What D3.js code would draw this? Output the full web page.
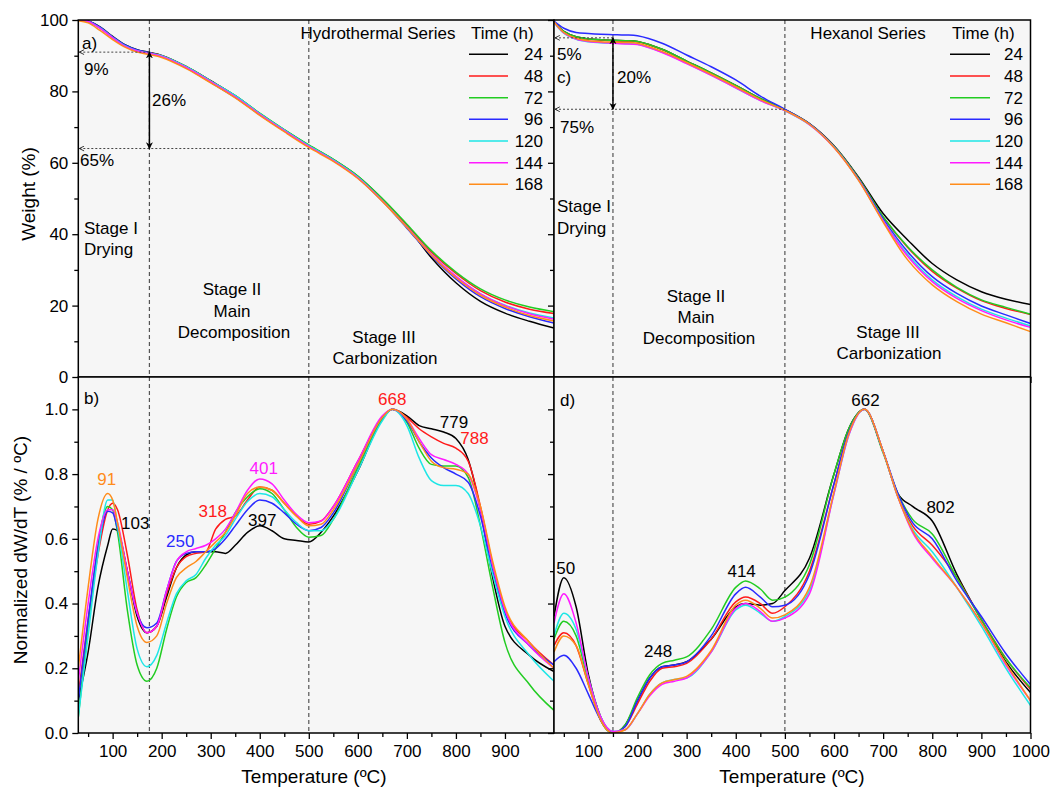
<!DOCTYPE html>
<html>
<head>
<meta charset="utf-8">
<script src="https://cdn.jsdelivr.net/npm/d3@7"></script>
<style>
  body { margin: 0; background: #fff; }
  text { font-family: "Liberation Sans", Arial, sans-serif; }
</style>
</head>
<body>
<script>
// ---- data ----
const times = ["24", "48", "72", "96", "120", "144", "168"];
const colors = ["#000000", "#ff1a1a", "#22cc22", "#2a2aff", "#1ee6e6", "#ff1aff", "#ff8c1a"];

// TGA (weight %), both series share the same temperature grid
const tgaT = [30, 50, 75, 100, 125, 150, 175, 200, 250, 300, 350, 400, 450, 500, 550, 600, 650, 700, 750, 800, 850, 900, 950, 1000];

const hydroTGA = [
  [100, 99.7, 98.0, 95.4, 93.1, 91.7, 90.9, 90.1, 87.0, 83.0, 78.8, 73.8, 69.2, 64.9, 60.9, 56.2, 49.8, 42.3, 33.4, 26.4, 21.2, 17.9, 15.6, 13.7],
  [100, 99.6, 97.8, 95.2, 92.9, 91.5, 90.8, 90.0, 86.9, 82.9, 78.7, 73.7, 69.1, 64.8, 60.8, 56.0, 49.7, 42.5, 35.0, 29.0, 24.2, 21.0, 19.0, 17.8],
  [100, 99.6, 97.7, 95.1, 92.8, 91.4, 90.7, 89.9, 86.9, 82.9, 78.8, 73.9, 69.3, 65.0, 61.0, 56.3, 50.0, 42.8, 35.4, 29.4, 24.7, 21.6, 19.6, 18.3],
  [100, 99.7, 97.9, 95.3, 93.0, 91.6, 90.8, 89.9, 86.6, 82.5, 78.3, 73.4, 68.9, 64.6, 60.6, 55.8, 49.3, 41.7, 34.0, 27.5, 22.5, 19.2, 16.9, 15.1],
  [100, 99.6, 97.7, 95.1, 92.8, 91.4, 90.7, 90.0, 86.9, 82.9, 78.8, 73.8, 69.2, 64.8, 60.8, 56.0, 49.4, 42.0, 34.4, 28.1, 23.3, 20.1, 17.9, 16.5],
  [100, 99.6, 97.6, 95.0, 92.7, 91.3, 90.6, 89.8, 86.7, 82.7, 78.5, 73.6, 69.0, 64.6, 60.6, 55.8, 49.3, 42.0, 34.4, 28.2, 23.3, 20.0, 17.7, 16.2],
  [99.8, 99.2, 97.0, 94.5, 92.4, 91.0, 90.3, 89.5, 86.4, 82.4, 78.2, 73.3, 68.7, 64.3, 60.4, 55.6, 49.2, 41.9, 34.2, 27.8, 22.9, 19.6, 17.2, 15.7]
];

const hexTGA = [
  [99.5, 96.8, 95.3, 94.7, 94.5, 94.3, 94.2, 94.0, 91.8, 88.5, 85.2, 81.7, 78.0, 74.9, 71.0, 64.8, 56.0, 45.8, 38.4, 31.8, 27.2, 23.9, 21.8, 20.3],
  [99.5, 96.7, 95.2, 94.6, 94.4, 94.2, 94.1, 93.9, 91.7, 88.4, 85.1, 81.6, 77.9, 74.8, 70.9, 64.6, 55.6, 44.8, 36.3, 29.6, 24.9, 21.4, 19.2, 17.5],
  [99.5, 96.8, 95.3, 94.7, 94.5, 94.3, 94.2, 94.0, 91.8, 88.5, 85.2, 81.7, 78.0, 74.9, 70.9, 64.6, 55.7, 44.9, 36.5, 30.0, 25.1, 21.6, 19.5, 17.6],
  [99.7, 97.7, 96.5, 96.2, 96.0, 95.9, 95.8, 95.6, 93.5, 90.2, 86.9, 83.2, 78.7, 75.0, 70.9, 64.5, 55.4, 44.3, 35.1, 28.1, 23.4, 19.9, 17.4, 15.0],
  [99.4, 96.3, 94.6, 93.9, 93.6, 93.5, 93.4, 93.2, 91.0, 87.9, 84.6, 81.0, 77.5, 74.6, 70.7, 64.4, 55.2, 43.8, 34.3, 27.2, 22.5, 19.0, 16.5, 14.3],
  [99.4, 96.4, 94.7, 94.0, 93.7, 93.5, 93.3, 93.1, 90.9, 87.8, 84.5, 81.0, 77.4, 74.6, 70.7, 64.3, 55.2, 43.7, 33.8, 26.7, 22.0, 18.6, 16.0, 13.9],
  [99.5, 96.5, 94.9, 94.2, 93.9, 93.8, 93.7, 93.5, 91.2, 88.1, 84.8, 81.3, 77.7, 74.7, 70.8, 64.3, 55.1, 43.4, 32.8, 25.8, 21.1, 17.6, 15.2, 12.7]
];

// DTG (normalized dW/dT)
const hydroT = [30, 50, 70, 90, 100, 110, 130, 150, 170, 190, 210, 230, 250, 270, 290, 310, 330, 350, 375, 400, 425, 450, 475, 500, 525, 550, 600, 650, 670, 700, 725, 750, 775, 800, 825, 850, 875, 900, 950, 1000];

const hydroDTG = [
  [0.10, 0.25, 0.45, 0.58, 0.63, 0.625, 0.50, 0.36, 0.31, 0.33, 0.42, 0.51, 0.55, 0.56, 0.56, 0.56, 0.555, 0.58, 0.62, 0.64, 0.625, 0.60, 0.595, 0.59, 0.62, 0.67, 0.81, 0.97, 1.0, 0.98, 0.95, 0.94, 0.93, 0.91, 0.845, 0.69, 0.48, 0.33, 0.24, 0.19],
  [0.12, 0.35, 0.55, 0.69, 0.71, 0.69, 0.55, 0.38, 0.31, 0.33, 0.43, 0.51, 0.545, 0.555, 0.56, 0.63, 0.66, 0.67, 0.72, 0.76, 0.75, 0.71, 0.67, 0.645, 0.655, 0.70, 0.84, 0.975, 1.0, 0.975, 0.94, 0.915, 0.895, 0.88, 0.84, 0.70, 0.52, 0.38, 0.28, 0.21],
  [0.05, 0.33, 0.58, 0.70, 0.69, 0.62, 0.38, 0.21, 0.16, 0.20, 0.32, 0.42, 0.465, 0.48, 0.52, 0.57, 0.62, 0.68, 0.73, 0.755, 0.74, 0.69, 0.635, 0.605, 0.61, 0.66, 0.82, 0.97, 1.0, 0.96, 0.88, 0.83, 0.825, 0.825, 0.79, 0.64, 0.45, 0.28, 0.15, 0.07],
  [0.10, 0.35, 0.57, 0.685, 0.68, 0.63, 0.50, 0.37, 0.325, 0.34, 0.44, 0.53, 0.555, 0.56, 0.56, 0.57, 0.60, 0.64, 0.69, 0.72, 0.71, 0.68, 0.645, 0.625, 0.635, 0.68, 0.83, 0.975, 1.0, 0.965, 0.90, 0.85, 0.82, 0.80, 0.775, 0.67, 0.50, 0.37, 0.27, 0.21],
  [0.05, 0.30, 0.55, 0.72, 0.72, 0.64, 0.44, 0.26, 0.205, 0.24, 0.34, 0.43, 0.47, 0.49, 0.54, 0.58, 0.61, 0.66, 0.715, 0.74, 0.73, 0.69, 0.65, 0.625, 0.625, 0.66, 0.81, 0.965, 1.0, 0.95, 0.85, 0.78, 0.765, 0.765, 0.74, 0.64, 0.49, 0.36, 0.24, 0.16],
  [0.16, 0.40, 0.60, 0.69, 0.69, 0.65, 0.50, 0.37, 0.31, 0.33, 0.44, 0.53, 0.56, 0.57, 0.58, 0.60, 0.63, 0.68, 0.75, 0.785, 0.77, 0.72, 0.675, 0.65, 0.655, 0.70, 0.84, 0.98, 1.0, 0.97, 0.91, 0.86, 0.845, 0.83, 0.80, 0.69, 0.52, 0.38, 0.27, 0.20],
  [0.20, 0.45, 0.66, 0.74, 0.72, 0.65, 0.48, 0.33, 0.28, 0.30, 0.40, 0.48, 0.51, 0.53, 0.56, 0.59, 0.62, 0.67, 0.74, 0.76, 0.75, 0.71, 0.67, 0.64, 0.645, 0.69, 0.83, 0.975, 1.0, 0.97, 0.90, 0.84, 0.82, 0.815, 0.80, 0.70, 0.53, 0.39, 0.28, 0.20]
];

const hexT = [30, 50, 75, 100, 125, 150, 175, 200, 225, 250, 275, 300, 350, 400, 420, 450, 475, 500, 550, 600, 630, 662, 700, 730, 760, 800, 850, 900, 950, 1000];

const hexDTG = [
  [0.36, 0.48, 0.39, 0.18, 0.05, 0.0, 0.025, 0.10, 0.17, 0.205, 0.21, 0.22, 0.29, 0.39, 0.40, 0.395, 0.40, 0.44, 0.54, 0.80, 0.94, 1.0, 0.87, 0.74, 0.70, 0.655, 0.49, 0.35, 0.22, 0.125],
  [0.27, 0.31, 0.27, 0.15, 0.04, 0.0, 0.02, 0.09, 0.16, 0.20, 0.205, 0.215, 0.29, 0.405, 0.42, 0.40, 0.37, 0.39, 0.50, 0.77, 0.93, 1.0, 0.87, 0.73, 0.64, 0.58, 0.48, 0.35, 0.23, 0.135],
  [0.29, 0.345, 0.30, 0.16, 0.04, 0.0, 0.025, 0.11, 0.18, 0.215, 0.225, 0.235, 0.32, 0.45, 0.47, 0.445, 0.41, 0.42, 0.52, 0.80, 0.94, 1.0, 0.865, 0.74, 0.66, 0.615, 0.48, 0.35, 0.23, 0.14],
  [0.22, 0.24, 0.20, 0.12, 0.04, 0.0, 0.02, 0.10, 0.17, 0.205, 0.21, 0.22, 0.30, 0.43, 0.45, 0.42, 0.39, 0.395, 0.49, 0.77, 0.93, 1.0, 0.87, 0.74, 0.65, 0.60, 0.47, 0.36, 0.245, 0.15],
  [0.30, 0.37, 0.32, 0.17, 0.05, 0.005, 0.01, 0.06, 0.12, 0.155, 0.165, 0.17, 0.25, 0.38, 0.395, 0.37, 0.345, 0.36, 0.44, 0.74, 0.92, 1.0, 0.87, 0.73, 0.63, 0.56, 0.45, 0.33, 0.20, 0.085],
  [0.34, 0.43, 0.34, 0.17, 0.05, 0.005, 0.01, 0.06, 0.115, 0.15, 0.16, 0.17, 0.25, 0.385, 0.40, 0.375, 0.345, 0.355, 0.43, 0.74, 0.92, 1.0, 0.87, 0.73, 0.62, 0.54, 0.45, 0.34, 0.21, 0.10],
  [0.25, 0.30, 0.27, 0.15, 0.04, 0.0, 0.01, 0.06, 0.12, 0.155, 0.165, 0.175, 0.255, 0.395, 0.41, 0.385, 0.355, 0.365, 0.45, 0.745, 0.925, 1.0, 0.87, 0.73, 0.625, 0.545, 0.45, 0.34, 0.215, 0.10]
];

// peak labels: text, temperature, value, colour index
const hydroPeaks = [
  ["91", 88, 0.785, 6], ["103", 146, 0.649, 0], ["250", 238, 0.593, 3], ["318", 304, 0.686, 1],
  ["397", 405, 0.658, 0], ["401", 408, 0.819, 5], ["668", 670, 1.032, 1], ["779", 796, 0.961, 0], ["788", 838, 0.912, 1]
];
const hexPeaks = [
  ["50", 54, 0.511, 0], ["248", 242, 0.254, 0], ["414", 412, 0.502, 0], ["662", 664, 1.029, 0], ["802", 817, 0.699, 0]
];

// ---- layout ----
const W = 1050, H = 792;
const svg = d3.select("body").append("svg").attr("width", W).attr("height", H);

const xL = d3.scaleLinear().domain([30, 1000]).range([78.3, 554]);
const xR = d3.scaleLinear().domain([30, 1000]).range([554, 1030.5]);
const yTop = d3.scaleLinear().domain([0, 100]).range([377, 20]);
const yBot = d3.scaleLinear().domain([0, 1.1]).range([733, 377]);

const defs = svg.append("defs");
defs.append("marker").attr("id", "solidHead")
  .attr("viewBox", "0 0 10 10").attr("refX", 9).attr("refY", 5)
  .attr("markerWidth", 7).attr("markerHeight", 8).attr("markerUnits", "userSpaceOnUse")
  .attr("orient", "auto-start-reverse")
  .append("path").attr("d", "M0,0 L10,5 L0,10 L3,5 Z").attr("fill", "#000");
defs.append("marker").attr("id", "openHead")
  .attr("viewBox", "0 0 10 10").attr("refX", 1).attr("refY", 5)
  .attr("markerWidth", 6).attr("markerHeight", 6).attr("markerUnits", "userSpaceOnUse")
  .attr("orient", "auto")
  .append("path").attr("d", "M9,1 L1,5 L9,9").attr("fill", "none").attr("stroke", "#222").attr("stroke-width", 1.5);

function panel(id, x, y, T, series, opts) {
  const [xa, xb] = x.range();
  const [yb, ya] = y.range();
  const g = svg.append("g");

  g.append("rect").attr("x", xa).attr("y", ya).attr("width", xb - xa).attr("height", yb - ya).attr("fill", "#f6f6f6");

  defs.append("clipPath").attr("id", id + "-clip")
    .append("rect").attr("x", xa).attr("y", ya).attr("width", xb - xa).attr("height", yb - ya);

  // stage boundaries
  opts.stages.forEach(s => {
    g.append("line").attr("x1", x(s)).attr("x2", x(s)).attr("y1", ya).attr("y2", yb)
      .attr("stroke", "#555").attr("stroke-width", 1.2).attr("stroke-dasharray", "4,3");
  });

  const line = d3.line().x((d, i) => x(T[i])).y(d => y(d)).curve(opts.curve);
  g.append("g").attr("clip-path", `url(#${id}-clip)`)
    .selectAll("path").data(series).join("path")
    .attr("d", line).attr("fill", "none")
    .attr("stroke", (d, i) => colors[i]).attr("stroke-width", 1.5);

  // axes
  const xMajor = d3.range(100, 1001, 100).filter(v => v <= opts.xMax);
  const xMinor = d3.range(50, 1000, 100);
  const xa1 = g.append("g").attr("transform", `translate(0,${yb})`)
    .call(d3.axisBottom(x).tickValues(xMajor).tickSize(6).tickPadding(6)
      .tickFormat(opts.xLabels ? d3.format("d") : ""));
  const xa2 = g.append("g").attr("transform", `translate(0,${yb})`)
    .call(d3.axisBottom(x).tickValues(xMinor).tickSize(4).tickFormat(""));
  const ya1 = g.append("g").attr("transform", `translate(${xa},0)`)
    .call(d3.axisLeft(y).tickValues(opts.yMajor).tickSize(6).tickPadding(4)
      .tickFormat(opts.yLabels ? opts.yFormat : ""));
  const ya2 = g.append("g").attr("transform", `translate(${xa},0)`)
    .call(d3.axisLeft(y).tickValues(opts.yMinor).tickSize(4).tickFormat(""));
  [xa1, xa2, ya1, ya2].forEach(a => {
    a.select(".domain").remove();
    a.selectAll("line").attr("stroke", "#000").attr("stroke-width", 1.3);
    a.selectAll("text").attr("font-size", 17).attr("fill", "#000")
      .style("font-family", '"Liberation Sans", Arial, sans-serif');
  });

  g.append("rect").attr("x", xa).attr("y", ya).attr("width", xb - xa).attr("height", yb - ya)
    .attr("fill", "none").attr("stroke", "#000").attr("stroke-width", 1.5);
  return g;
}

const tickY = [0, 20, 40, 60, 80, 100], minorY = [10, 30, 50, 70, 90];
const tickD = [0, 0.2, 0.4, 0.6, 0.8, 1.0], minorD = [0.1, 0.3, 0.5, 0.7, 0.9];
const smooth = d3.curveCatmullRom.alpha(0.5);

const gA = panel("a", xL, yTop, tgaT, hydroTGA, { curve: smooth, stages: [175, 500], xMax: 900, xLabels: false, yLabels: true, yMajor: tickY, yMinor: minorY, yFormat: d3.format("d") });
const gC = panel("c", xR, yTop, tgaT, hexTGA, { curve: smooth, stages: [150, 500], xMax: 1000, xLabels: false, yLabels: false, yMajor: tickY, yMinor: minorY });
const gB = panel("b", xL, yBot, hydroT, hydroDTG, { curve: d3.curveMonotoneX, stages: [175, 500], xMax: 900, xLabels: true, yLabels: true, yMajor: tickD, yMinor: minorD, yFormat: d3.format(".1f") });
const gD = panel("d", xR, yBot, hexT, hexDTG, { curve: d3.curveMonotoneX, stages: [150, 500], xMax: 1000, xLabels: true, yLabels: false, yMajor: tickD, yMinor: minorD });

function txt(g, x, y, s, size, anchor, color) {
  return g.append("text").attr("x", x).attr("y", y).attr("font-size", size)
    .attr("text-anchor", anchor || "start").attr("fill", color || "#000").text(s);
}

// weight-loss markers
function lossMarks(g, x, tStage, hi, lo) {
  g.append("line").attr("x1", x(30) + 1).attr("x2", x(tStage)).attr("y1", yTop(hi)).attr("y2", yTop(hi))
    .attr("stroke", "#444").attr("stroke-dasharray", "2,2").attr("marker-start", "url(#openHead)");
  g.append("line").attr("x1", x(30) + 1).attr("x2", x(500)).attr("y1", yTop(lo)).attr("y2", yTop(lo))
    .attr("stroke", "#444").attr("stroke-dasharray", "2,2").attr("marker-start", "url(#openHead)");
  g.append("line").attr("x1", x(tStage)).attr("x2", x(tStage)).attr("y1", yTop(hi)).attr("y2", yTop(lo))
    .attr("stroke", "#000").attr("stroke-width", 1.5)
    .attr("marker-start", "url(#solidHead)").attr("marker-end", "url(#solidHead)");
}
lossMarks(gA, xL, 175, 91, 64);
lossMarks(gC, xR, 150, 95, 75);

// panel a texts
txt(gA, 82, 49, "a)", 17);
txt(gA, 84, 75, "9%", 17);
txt(gA, 152, 106, "26%", 17);
txt(gA, 80, 166, "65%", 17);
txt(gA, 84, 234, "Stage I", 17);
txt(gA, 84, 255, "Drying", 17);
txt(gA, 232, 295, "Stage II", 17, "middle");
txt(gA, 232, 317, "Main", 17, "middle");
txt(gA, 234, 338, "Decomposition", 17, "middle");
txt(gA, 384, 343, "Stage III", 17, "middle");
txt(gA, 385, 364, "Carbonization", 17, "middle");
txt(gA, 378, 39, "Hydrothermal Series", 17, "middle");

// panel c texts
txt(gC, 557, 60, "5%", 17);
txt(gC, 557, 83, "c)", 17);
txt(gC, 617, 83, "20%", 17);
txt(gC, 560, 133, "75%", 17);
txt(gC, 557, 212, "Stage I", 17);
txt(gC, 557, 234, "Drying", 17);
txt(gC, 696, 302, "Stage II", 17, "middle");
txt(gC, 696, 323, "Main", 17, "middle");
txt(gC, 699, 344, "Decomposition", 17, "middle");
txt(gC, 888, 338, "Stage III", 17, "middle");
txt(gC, 889, 359, "Carbonization", 17, "middle");
txt(gC, 868, 39, "Hexanol Series", 17, "middle");

// legends
function legend(g, lx0, lx1, rx, titleX) {
  txt(g, titleX, 39, "Time (h)", 17);
  times.forEach((t, i) => {
    const yy = 54.3 + i * 21.67;
    g.append("line").attr("x1", lx0).attr("x2", lx1).attr("y1", yy).attr("y2", yy)
      .attr("stroke", colors[i]).attr("stroke-width", 1.5);
    txt(g, rx, yy + 6, t, 17, "end");
  });
}
legend(gA, 469, 508, 543, 471);
legend(gC, 950, 990, 1023, 952);

// peak labels
txt(gB, 84, 404, "b)", 17);
txt(gD, 560, 406, "d)", 17);
hydroPeaks.forEach(p => txt(gB, xL(p[1]), yBot(p[2]) + 6, p[0], 17, "middle", colors[p[3]]));
hexPeaks.forEach(p => txt(gD, xR(p[1]), yBot(p[2]) + 6, p[0], 17, "middle", colors[p[3]]));

// axis titles
svg.append("text").attr("transform", "translate(35,194) rotate(-90)")
  .attr("text-anchor", "middle").attr("font-size", 19).text("Weight (%)");
svg.append("text").attr("transform", "translate(27,550) rotate(-90)")
  .attr("text-anchor", "middle").attr("font-size", 19).text("Normalized dW/dT (% / ºC)");
txt(svg, 314, 783, "Temperature (ºC)", 19, "middle");
txt(svg, 792, 783, "Temperature (ºC)", 19, "middle");
</script>
</body>
</html>
